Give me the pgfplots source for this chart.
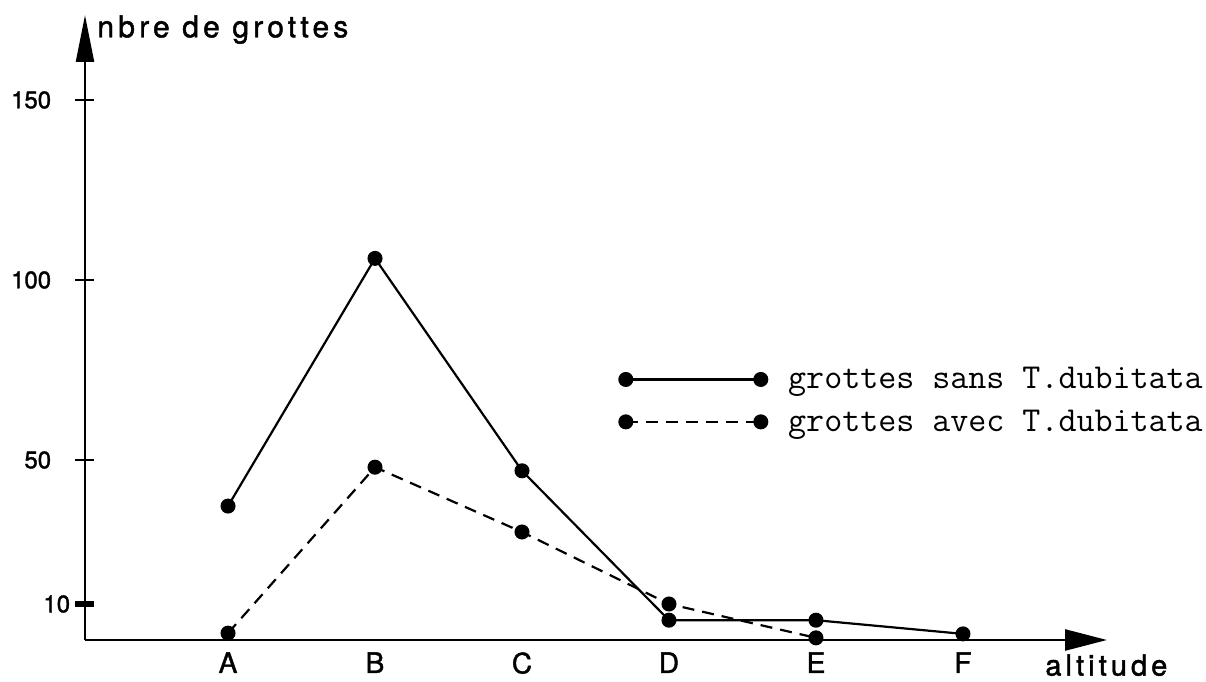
\documentclass[border=0pt]{standalone}
\usepackage{fontspec}
\setmainfont[FakeBold=1.5]{TeX Gyre Heros}
\newfontfamily\spacedfont[LetterSpace=14,FakeBold=1.5]{TeX Gyre Heros}
\usepackage{pgfplots}
\pgfplotsset{compat=1.18}
\usetikzlibrary{arrows.meta}
\begin{document}
\begin{tikzpicture}
\begin{axis}[
  scale only axis, width=511pt, height=312.5pt,
  xmin=0.027, xmax=6.98, ymin=0, ymax=173.6,
  clip=false,
  axis lines=left,
  axis line style={line width=1.2pt, black},
  x axis line style={-{Triangle[length=21pt,width=10.5pt]}},
  y axis line style={-{Triangle[length=23.5pt,width=9pt]}},
  xtick={1,2,3,4,5,6},
  xticklabels={A,B,C,D,E,F},
  x tick style={draw=none},
  xticklabel style={font=\fontsize{14}{16}\selectfont, inner sep=0pt, yshift=-1.25pt},
  ytick={50,100,150},
  tick align=center,
  major tick length=9.5pt,
  tick style={line width=1pt, black},
  yticklabel style={font=\fontsize{12}{14}\selectfont, inner sep=0pt, xshift=-12pt},
  extra y ticks={10},
  extra y tick style={tick style={line width=3pt}, yticklabel style={xshift=9.5pt}},
  /pgf/number format/assume math mode=true,
  ylabel={\spacedfont\fontsize{15}{17}\selectfont nbre de grottes},
  ylabel style={at={(axis description cs:0,1)}, rotate=-90, anchor=north west, xshift=6pt, inner sep=0pt},
  xlabel={\spacedfont\fontsize{14.5}{17}\selectfont altitude},
  xlabel style={at={(axis description cs:1,0)}, anchor=north west, xshift=-31pt, yshift=-7pt, inner sep=0pt},
  legend style={at={(0.5225,0.437)}, anchor=north west, draw=none, fill=none,
    font=\fontsize{17.5}{20}\selectfont\ttfamily, row sep=9pt, column sep=10.5pt,
    inner sep=0pt, nodes={inner sep=0pt}, cells={anchor=west}},
  legend image code/.code={\draw[#1] plot coordinates {(0pt,0pt) (67.5pt,0pt)};},
]
\addplot[black, line width=1.1pt, mark=*, mark size=3.2pt] coordinates {
  (1,37.2) (2,106) (3,47) (4,5.5) (5,5.5) (6,1.7)
};
\addlegendentry{grottes sans T.dubitata}
\addplot[black, line width=1.1pt, dash pattern=on 6pt off 4pt, mark=*, mark size=3.2pt, mark options={solid}] coordinates {
  (1,1.9) (2,48) (3,30) (4,10) (5,0.6)
};
\addlegendentry{grottes avec T.dubitata}
\end{axis}
\pgfresetboundingbox
\path[use as bounding box] ([shift={(-42.5pt,-20.5pt)}]current axis.south west) rectangle ([shift={(49.5pt,7.5pt)}]current axis.north east);
\end{tikzpicture}
\end{document}
